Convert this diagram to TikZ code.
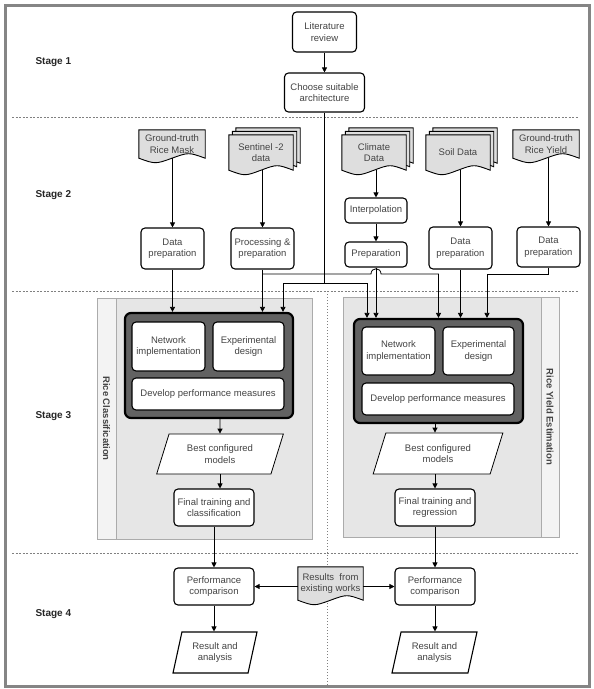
\documentclass[tikz,border=0pt]{standalone}
\usepackage{fontspec}
\setmainfont{Liberation Sans}
\usetikzlibrary{shapes.geometric, arrows.meta, positioning, calc, backgrounds}
\definecolor{txt}{HTML}{444444}
\definecolor{docgray}{HTML}{DEDEDE}
\definecolor{lanefill}{HTML}{E6E6E6}
\definecolor{stripfill}{HTML}{F3F3F3}
\definecolor{laneline}{HTML}{ABABAB}
\definecolor{corefill}{HTML}{626262}
\definecolor{framegray}{HTML}{858585}
\tikzset{
    proc/.style={rectangle, draw=black, fill=white, rounded corners=4pt, line width=1.1pt, align=center, text=txt, inner sep=1pt},
    doc/.style={rectangle, align=center, text=txt, inner sep=1pt},
    docline/.style={draw=black, fill=docgray, line width=0.9pt},
    para/.style={trapezium, trapezium left angle=68, trapezium right angle=112, trapezium stretches=true, draw=black, fill=white, line width=0.8pt, align=center, text=txt, inner sep=1pt},
    lane/.style={rectangle, draw=laneline, fill=lanefill, line width=0.6pt},
    strip/.style={rectangle, draw=laneline, fill=stripfill, line width=0.6pt},
    lanetitle/.style={rotate=-90, text=txt, font=\bfseries\fontsize{9.5}{11}\selectfont},
    core/.style={rectangle, draw=black, fill=corefill, rounded corners=6pt, line width=2.2pt},
    stage/.style={anchor=west, text=black!85, font=\bfseries\fontsize{10}{12}\selectfont},
    arrow/.style={-{Triangle[length=5pt,width=5pt]}, line width=0.8pt},
    conn/.style={line width=0.8pt},
    stagesep/.style={draw=gray, line width=0.7pt, dash pattern=on 2pt off 1.5pt},
    lanesep/.style={draw=gray, line width=0.7pt, dash pattern=on 1pt off 2pt},
    outerframe/.style={draw=framegray, line width=3pt},
}
% wavy document outline around a node, shifted by #1
\newcommand{\docshape}[2]{%
  \filldraw[docline] ($(#2.north west)+(#1)$) -- ($(#2.north east)+(#1)$) -- ($(#2.south east)+(#1)$)
    .. controls ($(#2.south west)!0.75!(#2.south east)+(#1)+(0,-6)$) .. ($(#2.south)+(#1)$)
    .. controls ($(#2.south west)!0.25!(#2.south east)+(#1)+(0,6)$) .. ($(#2.south west)+(#1)$) -- cycle;}

\begin{document}
\begin{tikzpicture}[x=1pt, y=-1pt, font=\fontsize{9.5}{11.5}\selectfont]
    \useasboundingbox (0,0) rectangle (594,689);
    \draw[outerframe] (5,5) rectangle (589,686);

    % Stage separators
    \begin{scope}[on background layer]
        \draw[stagesep] (12,117) -- (578,117);
        \draw[stagesep] (12,291) -- (578,291);
        \draw[stagesep] (12,553) -- (578,553);
        \draw[lanesep] (327,291) -- (327,685);
    \end{scope}

    % Stage labels
    \node[stage] (st1) at (32,62) {Stage 1};
    \node[stage] (st2) at (32,195) {Stage 2};
    \node[stage] (st3) at (32,416) {Stage 3};
    \node[stage] (st4) at (32,614) {Stage 4};

    % Stage 1
    \node[proc, minimum width=64, minimum height=40] (lit) at (324.5,32) {Literature\\review};
    \node[proc, minimum width=80, minimum height=39] (arch) at (324.5,92.5) {Choose suitable\\architecture};
    \draw[arrow] (lit) -- (arch);

    % Stage 2 - data sources
    \node[doc, minimum width=66, minimum height=28] (mask) at (172,144) {Ground-truth\\Rice Mask};
    \node[doc, minimum width=64, minimum height=35] (s2) at (261,152.5) {Sentinel -2\\data};
    \node[doc, minimum width=64, minimum height=35] (clim) at (374,152.5) {Climate\\Data};
    \node[doc, minimum width=64, minimum height=35] (soil) at (458,152.5) {Soil Data};
    \node[doc, minimum width=66, minimum height=28] (yield) at (546,144) {Ground-truth\\Rice Yield};
    \begin{scope}[on background layer]
        \docshape{0,0}{mask}
        \docshape{7,-7}{s2} \docshape{3.5,-3.5}{s2} \docshape{0,0}{s2}
        \docshape{7,-7}{clim} \docshape{3.5,-3.5}{clim} \docshape{0,0}{clim}
        \docshape{7,-7}{soil} \docshape{3.5,-3.5}{soil} \docshape{0,0}{soil}
        \docshape{0,0}{yield}
    \end{scope}

    % Stage 2 - preparation
    \node[proc, minimum width=63, minimum height=41] (dp1) at (172.5,248.5) {Data\\preparation};
    \node[proc, minimum width=63, minimum height=41] (pp) at (262.5,248.5) {Processing \&\\preparation};
    \node[proc, minimum width=62, minimum height=25] (interp) at (376,210.5) {Interpolation};
    \node[proc, minimum width=62, minimum height=25] (prep) at (376,254.5) {Preparation};
    \node[proc, minimum width=63, minimum height=42] (dp2) at (460.5,248) {Data\\preparation};
    \node[proc, minimum width=63, minimum height=40] (dp3) at (548.5,247) {Data\\preparation};

    % Stage 3 - rice classification
    \node[lane, minimum width=215, minimum height=241] (laneC) at (204.5,418.5) {};
    \node[strip, anchor=north west, minimum width=19, minimum height=241] (stripC) at (laneC.north west) {};
    \node[lanetitle] (titleC) at (stripC) {Rice Classification};
    \node[core, minimum width=168, minimum height=105] (blkC) at (209,365.5) {};
    \node[proc, minimum width=73, minimum height=49] (netC) at (168.5,346.5) {Network\\implementation};
    \node[proc, minimum width=71, minimum height=49] (expC) at (248.5,346.5) {Experimental\\design};
    \node[proc, minimum width=152, minimum height=32] (devC) at (208,394) {Develop performance measures};
    \node[para, minimum width=127, minimum height=40] (bestC) at (220,454) {Best configured\\models};
    \node[proc, minimum width=80, minimum height=37] (finC) at (214,507.5) {Final training and\\classification};

    % Stage 3 - rice yield estimation
    \node[lane, minimum width=216, minimum height=240] (laneY) at (451,417) {};
    \node[strip, anchor=north east, minimum width=18, minimum height=240] (stripY) at (laneY.north east) {};
    \node[lanetitle] (titleY) at (stripY) {Rice Yield Estimation};
    \node[core, minimum width=169, minimum height=104] (blkY) at (438.5,371) {};
    \node[proc, minimum width=73, minimum height=48] (netY) at (398.5,351) {Network\\implementation};
    \node[proc, minimum width=71, minimum height=48] (expY) at (478.5,351) {Experimental\\design};
    \node[proc, minimum width=152, minimum height=32] (devY) at (438,399) {Develop performance measures};
    \node[para, minimum width=130, minimum height=41] (bestY) at (438,453.5) {Best configured\\models};
    \node[proc, minimum width=80, minimum height=37] (finY) at (435,507.5) {Final training and\\regression};

    % Stage 4
    \node[proc, minimum width=80, minimum height=37] (perfL) at (214,586.5) {Performance\\comparison};
    \node[doc, minimum width=65, minimum height=33] (res) at (330.5,583.5) {Results~~from\\existing works};
    \begin{scope}[on background layer]
        \docshape{0,0}{res}
    \end{scope}
    \node[proc, minimum width=80, minimum height=37] (perfR) at (435,586.5) {Performance\\comparison};
    \node[para, trapezium left angle=74, trapezium right angle=106, line width=1.1pt, minimum width=84, minimum height=41] (anaL) at (215,652.5) {Result and\\analysis};
    \node[para, trapezium left angle=74, trapezium right angle=106, line width=1.1pt, minimum width=85, minimum height=41] (anaR) at (434.5,652.5) {Result and\\analysis};

    % Connectors
    \coordinate (archL) at (283,283);
    \coordinate (archR) at (367,283);
    \coordinate (bus) at (0,274);
    \coordinate (hop) at (prep.south |- bus);
    \coordinate (yIn) at ($(blkY.north)+(48.5,0)$);
    \draw[arrow] (arch.south) -- (arch.south |- archL) -- (archL) -- (archL |- blkC.north);
    \draw[arrow] (arch.south |- archR) -- (archR) -- (archR |- blkY.north);

    \draw[arrow] (dp1 |- mask.south) -- (dp1.north);
    \draw[arrow] (dp1.south) -- (dp1.south |- blkC.north);
    \draw[arrow] (pp |- s2.south) -- (pp.north);
    \draw[arrow] (pp.south) -- (pp.south |- blkC.north);
    \draw[arrow] (pp.south |- bus) -- ($(hop)+(-5,0)$) .. controls ($(hop)+(-5,-7)$) and ($(hop)+(5,-7)$) .. ($(hop)+(5,0)$) -| (blkY.north);
    \draw[arrow] (interp |- clim.south) -- (interp.north);
    \draw[arrow] (interp) -- (prep);
    \draw[arrow] (prep.south) -- (prep.south |- blkY.north);
    \draw[arrow] (dp2 |- soil.south) -- (dp2.north);
    \draw[arrow] (dp2.south) -- (dp2.south |- blkY.north);
    \draw[arrow] (dp3 |- yield.south) -- (dp3.north);
    \draw[arrow] (dp3.south) |- (yIn |- bus) -- (yIn);

    \draw[arrow] (bestC |- blkC.south) -- (bestC.north);
    \draw[arrow] (bestC.south) -- (bestC.south |- finC.north);
    \draw[arrow] (finY |- blkY.south) -- (finY |- bestY.north);
    \draw[arrow] (finY |- bestY.south) -- (finY.north);

    \draw[arrow] (finC) -- (perfL);
    \draw[arrow] (finY) -- (perfR);
    \draw[arrow] (res.west |- perfL) -- (perfL.east);
    \draw[arrow] (res.east |- perfR) -- (perfR.west);
    \draw[arrow] (perfL.south) -- (perfL.south |- anaL.north);
    \draw[arrow] (perfR.south) -- (perfR.south |- anaR.north);
\end{tikzpicture}
\end{document}
